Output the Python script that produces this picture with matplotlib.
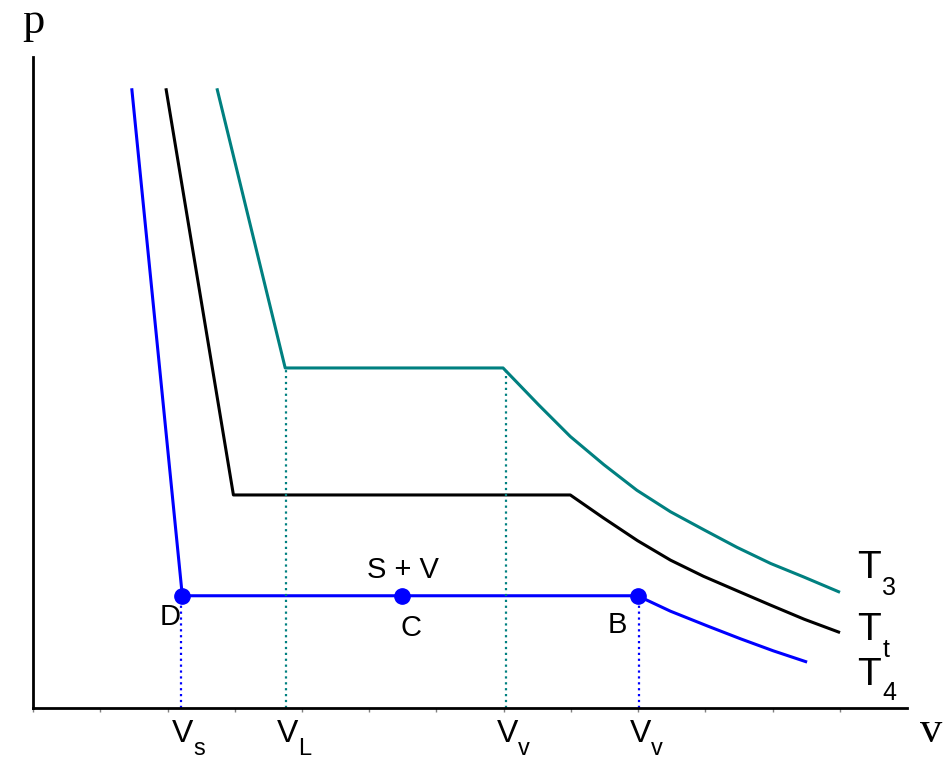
import numpy as np
import matplotlib.pyplot as plt

# isotherms in p-v plane (arbitrary units)
t4_v = [1.47, 2.22, 8.99, 9.48, 10.03, 10.52, 11.01, 11.49]
t4_p = [9.20, 1.67, 1.67, 1.44, 1.22, 1.03, 0.85, 0.69]

tt_v = [1.98, 2.98, 7.99, 8.48, 8.99, 9.48, 9.97, 10.48, 10.97, 11.47, 11.98]
tt_p = [9.20, 3.17, 3.17, 2.83, 2.49, 2.20, 1.96, 1.74, 1.53, 1.32, 1.13]

t3_v = [2.74, 3.75, 6.99, 7.52, 7.99, 8.49, 8.98, 9.48, 9.98, 10.47, 10.97, 11.46, 11.98]
t3_p = [9.20, 5.06, 5.06, 4.51, 4.04, 3.62, 3.24, 2.92, 2.65, 2.39, 2.15, 1.95, 1.73]

# marked states on the T4 isotherm
pts_v = [2.22, 5.49, 8.99]
pts_p = [1.67, 1.67, 1.67]

# volumes marked on the axis
v_s, v_L, v_v1, v_v2 = 2.20, 3.76, 7.03, 9.01
vol_labels = [(v_s, "s"), (v_L, "L"), (v_v1, "v"), (v_v2, "v")]

blue = "#0000ff"
teal = "#008080"
sans = "Liberation Sans"
serif = "Liberation Serif"

fig = plt.figure(figsize=(9.44, 7.58), dpi=100)
ax = fig.add_axes([0.035, 0.066, 0.926, 0.859])

ax.plot(t3_v, t3_p, color=teal, lw=2.2)
ax.plot(tt_v, tt_p, color="black", lw=2.2)
ax.plot(t4_v, t4_p, color=blue, lw=2.2)

# dotted drop lines
ax.plot([v_s, v_s], [0, t4_p[1]], ls=":", color=blue, lw=1.6)
ax.plot([v_v2, v_v2], [0, t4_p[1]], ls=":", color=blue, lw=1.6)
ax.plot([v_L, v_L], [0, t3_p[1]], ls=":", color=teal, lw=1.6)
ax.plot([v_v1, v_v1], [0, t3_p[1]], ls=":", color=teal, lw=1.6)

ax.plot(pts_v, pts_p, "o", color=blue, ms=11, zorder=5)

# point labels
ax.text(pts_v[0] - 0.02, 1.23, "D", ha="right", va="baseline", fontsize=21, family=sans)
ax.text(pts_v[1] + 0.13, 1.07, "C", ha="center", va="baseline", fontsize=21, family=sans)
ax.text(pts_v[2] - 0.16, 1.12, "B", ha="right", va="baseline", fontsize=21, family=sans)
ax.text(5.50, 1.93, "S + V", ha="center", va="baseline", fontsize=21, family=sans)


def sub_label(x, y, main, sub, size, subsize, dx, dy):
    ax.text(x, y, main, ha="left", va="baseline", fontsize=size, family=sans,
            clip_on=False)
    ax.annotate(sub, (x, y), xytext=(dx, dy), textcoords="offset points",
                ha="left", va="baseline", fontsize=subsize, family=sans,
                annotation_clip=False)


# isotherm labels
sub_label(12.26, 1.93, "T", "3", 28, 18, 18, -12)
sub_label(12.26, 1.01, "T", "t", 28, 18, 18, -12)
sub_label(12.26, 0.34, "T", "4", 28, 18, 18, -11)

# volume labels under the axis
for vx, s in vol_labels:
    sub_label(vx - 0.13, -0.50, "V", s, 23, 17, 15, -9.5)

ax.text(0.0, 10.05, "p", ha="center", va="baseline", fontsize=32, family=serif,
        clip_on=False)
ax.text(13.35, -0.51, "v", ha="center", va="baseline", fontsize=32, family=serif,
        clip_on=False)

ax.set_xlim(0, 13.0)
ax.set_ylim(0, 9.69)
ax.set_xticks(np.arange(0, 13))
ax.set_xticklabels([])
ax.set_yticks([])
ax.tick_params(axis="x", direction="out", length=3, width=1, color="gray")
for side in ["top", "right"]:
    ax.spines[side].set_visible(False)
for side in ["left", "bottom"]:
    ax.spines[side].set_linewidth(2)

fig.savefig("out.png", dpi=100)
